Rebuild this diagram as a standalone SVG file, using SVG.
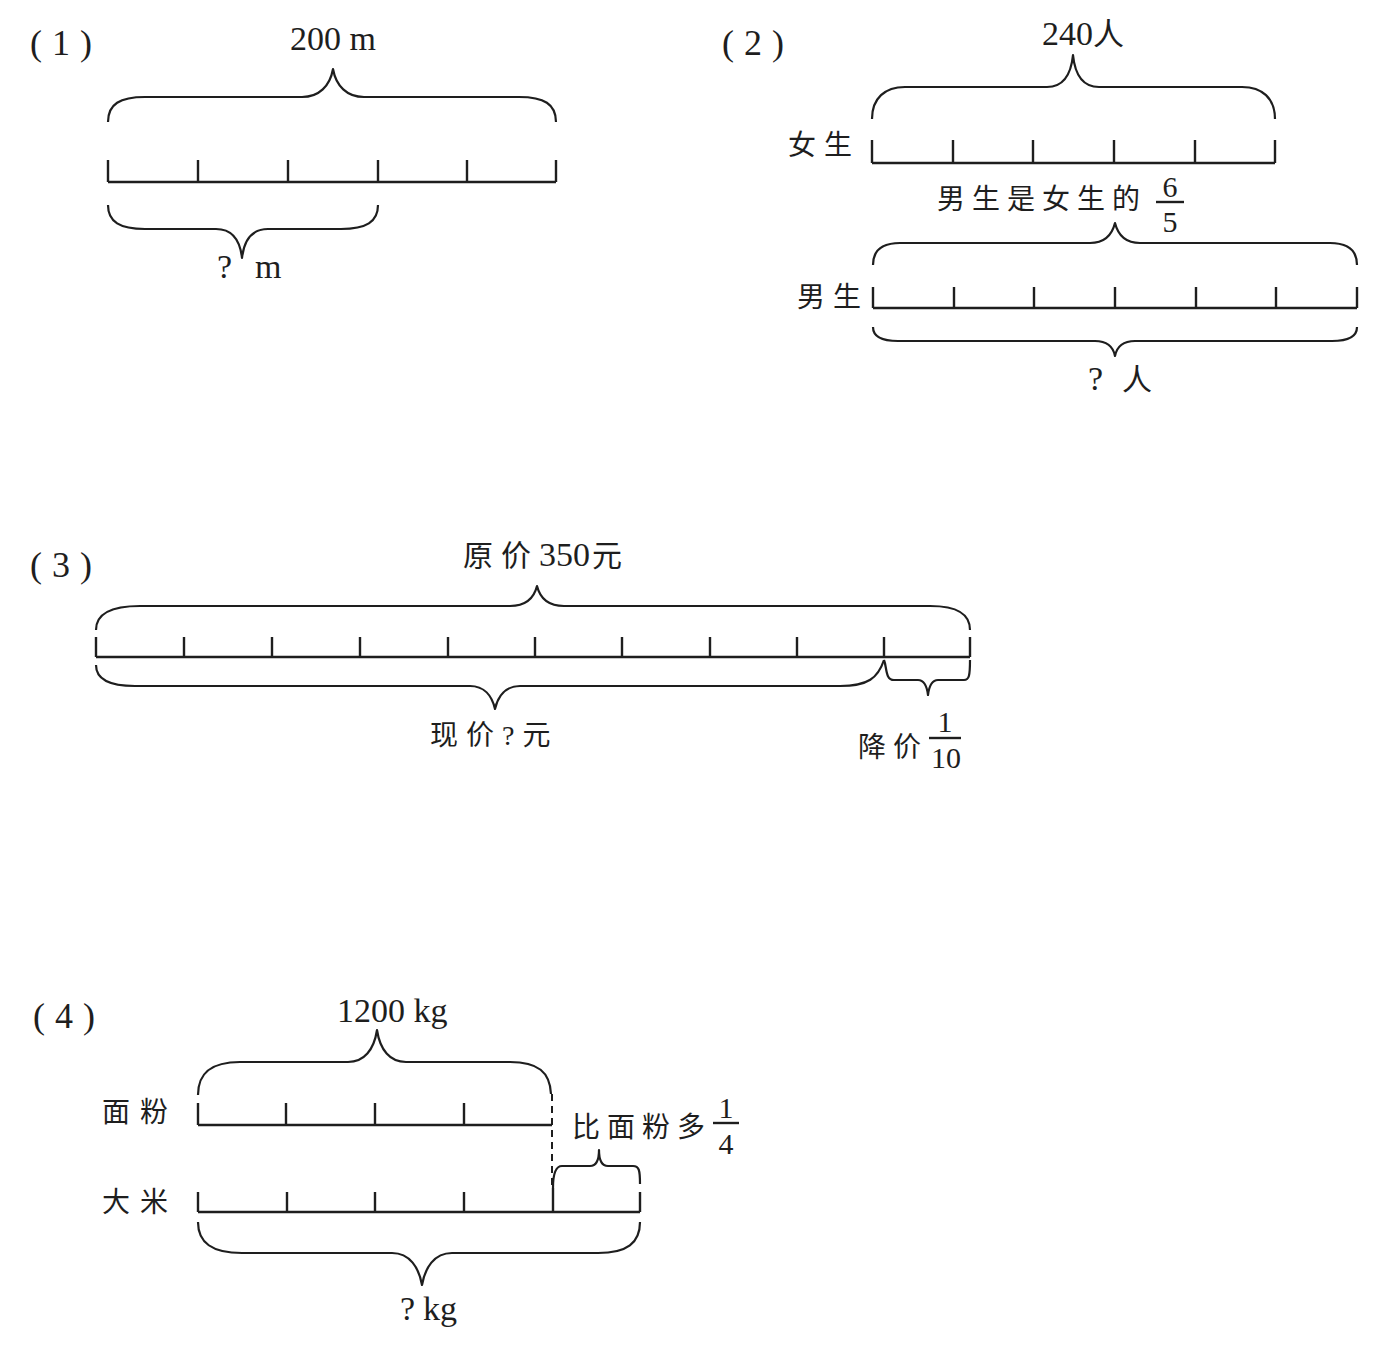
<svg xmlns="http://www.w3.org/2000/svg" width="1397" height="1362" viewBox="0 0 1397 1362">
<style>
text{font-family:"Liberation Serif","Noto Sans CJK SC",serif;fill:#1e1e1e}
.n{font-size:34px}
.p{font-size:36px;letter-spacing:10px}
.c{font-size:28px}
.f{font-size:30px;text-anchor:middle}
.ln{stroke:#1e1e1e;stroke-width:2.4;fill:none}
.br{stroke:#1e1e1e;stroke-width:2.2;fill:none;stroke-linejoin:round}
.dash{stroke:#1e1e1e;stroke-width:2;fill:none;stroke-dasharray:7 5}
</style>
<rect width="1397" height="1362" fill="#ffffff"/>

<g id="fig1">
  <text class="p" x="30" y="55">(1)</text>
  <text class="n" x="333" y="50" text-anchor="middle">200 m</text>
  <path class="br" d="M108,122 C108,104 120,97 145,97 L302,97 C319,97 330,86 333,69 C336,86 347,97 364,97 L519,97 C544,97 556,104 556,122"/>
  <path class="ln" d="M108,182 H556 M108,160 V182 M198,160 V182 M288,160 V182 M378,160 V182 M467,160 V182 M556,160 V182"/>
  <path class="br" d="M108,205 C108,222 120,229 145,229 L216,229 C232,229 240,240 242,258 C244,240 252,229 268,229 L341,229 C366,229 378,222 378,205"/>
  <text class="n" x="217" y="278">?<tspan x="255">m</tspan></text>
</g>

<g id="fig2">
  <text class="p" x="722" y="55">(2)</text>
  <text class="n" x="1042" y="45">240<tspan font-size="31">人</tspan></text>
  <path class="br" d="M872,119 C872,98 885,87 905,87 L1047,87 C1063,87 1071,75 1073,55 C1075,75 1083,87 1099,87 L1242,87 C1262,87 1275,98 1275,119"/>
  <text class="c" x="788" y="155" letter-spacing="8">女生</text>
  <path class="ln" d="M872,163 H1275 M872,140 V163 M953,140 V163 M1033,140 V163 M1114,140 V163 M1195,140 V163 M1275,140 V163"/>
  <text class="c" x="937" y="209" letter-spacing="7">男生是女生的</text>
  <text class="f" x="1170" y="197">6</text>
  <line class="ln" x1="1156" y1="202" x2="1184" y2="202" stroke-width="2"/>
  <text class="f" x="1170" y="232">5</text>
  <path class="br" d="M873,265 C873,250 882,243 900,243 L1090,243 C1104,243 1112,235 1115,223 C1118,235 1126,243 1140,243 L1330,243 C1348,243 1357,250 1357,265"/>
  <text class="c" x="797" y="307" letter-spacing="8">男生</text>
  <path class="ln" d="M873,308 H1357 M873,287 V308 M954,287 V308 M1034,287 V308 M1115,287 V308 M1196,287 V308 M1276,287 V308 M1357,287 V308"/>
  <path class="br" d="M873,327 C873,336 880,341 898,341 L1095,341 C1107,341 1113,346 1115,356 C1117,346 1123,341 1135,341 L1332,341 C1350,341 1357,336 1357,327"/>
  <text class="n" x="1088" y="390">?<tspan x="1122" font-size="30">人</tspan></text>
</g>

<g id="fig3">
  <text class="p" x="30" y="577">(3)</text>
  <text class="n" x="463" y="566"><tspan font-size="30" letter-spacing="8">原价</tspan>350<tspan font-size="30" dx="2">元</tspan></text>
  <path class="br" d="M96,630 C96,614 110,606 140,606 L510,606 C526,606 534,598 537,586 C540,598 548,606 564,606 L930,606 C958,606 970,614 970,630"/>
  <path class="ln" d="M96,657 H970 M96,637 V657 M184,637 V657 M272,637 V657 M360,637 V657 M448,637 V657 M535,637 V657 M622,637 V657 M710,637 V657 M797,637 V657 M884,637 V657 M970,637 V657"/>
  <path class="br" d="M96,665 C96,678 108,686 135,686 L470,686 C484,686 492,696 495,709 C498,696 506,686 520,686 L840,686 C868,686 878,678 884,660"/>
  <path class="br" d="M884,660 C887,667 885,680 894,680 L918,680 C924,680 927,687 928,695 C929,687 932,680 938,680 L964,680 C969,680 970,676 970,660"/>
  <text class="c" x="430" y="745" font-size="30" letter-spacing="8">现价?元</text>
  <text class="c" x="858" y="757" letter-spacing="7">降价</text>
  <text class="f" x="945" y="732">1</text>
  <line class="ln" x1="929" y1="738" x2="961" y2="738" stroke-width="2"/>
  <text class="f" x="946" y="768">10</text>
</g>

<g id="fig4">
  <text class="p" x="33" y="1028">(4)</text>
  <text class="n" x="337" y="1022">1200 kg</text>
  <path class="br" d="M198,1095 C198,1072 212,1062 240,1062 L348,1062 C364,1062 374,1050 377,1030 C380,1050 390,1062 406,1062 L510,1062 C538,1062 550,1072 551,1094"/>
  <text class="c" x="102" y="1122" letter-spacing="10">面粉</text>
  <path class="ln" d="M198,1125 H552 M198,1103 V1125 M286,1103 V1125 M375,1103 V1125 M464,1103 V1125"/>
  <path class="dash" d="M552,1094 V1188"/>
  <text class="c" x="572" y="1137" letter-spacing="7">比面粉多</text>
  <text class="f" x="726" y="1118">1</text>
  <line class="ln" x1="713" y1="1123" x2="739" y2="1123" stroke-width="2"/>
  <text class="f" x="726" y="1154">4</text>
  <path class="br" d="M553,1188 C553,1175 555,1166 562,1166 L590,1166 C596,1166 599,1160 599,1150 C599,1160 602,1166 608,1166 L633,1166 C639,1166 640,1170 640,1184"/>
  <text class="c" x="102" y="1212" letter-spacing="10">大米</text>
  <path class="ln" d="M198,1212 H640 M198,1192 V1212 M287,1192 V1212 M375,1192 V1212 M464,1192 V1212 M553,1188 V1212 M640,1192 V1212"/>
  <path class="br" d="M198,1222 C198,1243 212,1253 242,1253 L392,1253 C410,1253 419,1268 422,1285 C425,1268 434,1253 452,1253 L598,1253 C627,1253 640,1243 640,1222"/>
  <text class="n" x="400" y="1320">?<tspan dx="8">kg</tspan></text>
</g>
</svg>
